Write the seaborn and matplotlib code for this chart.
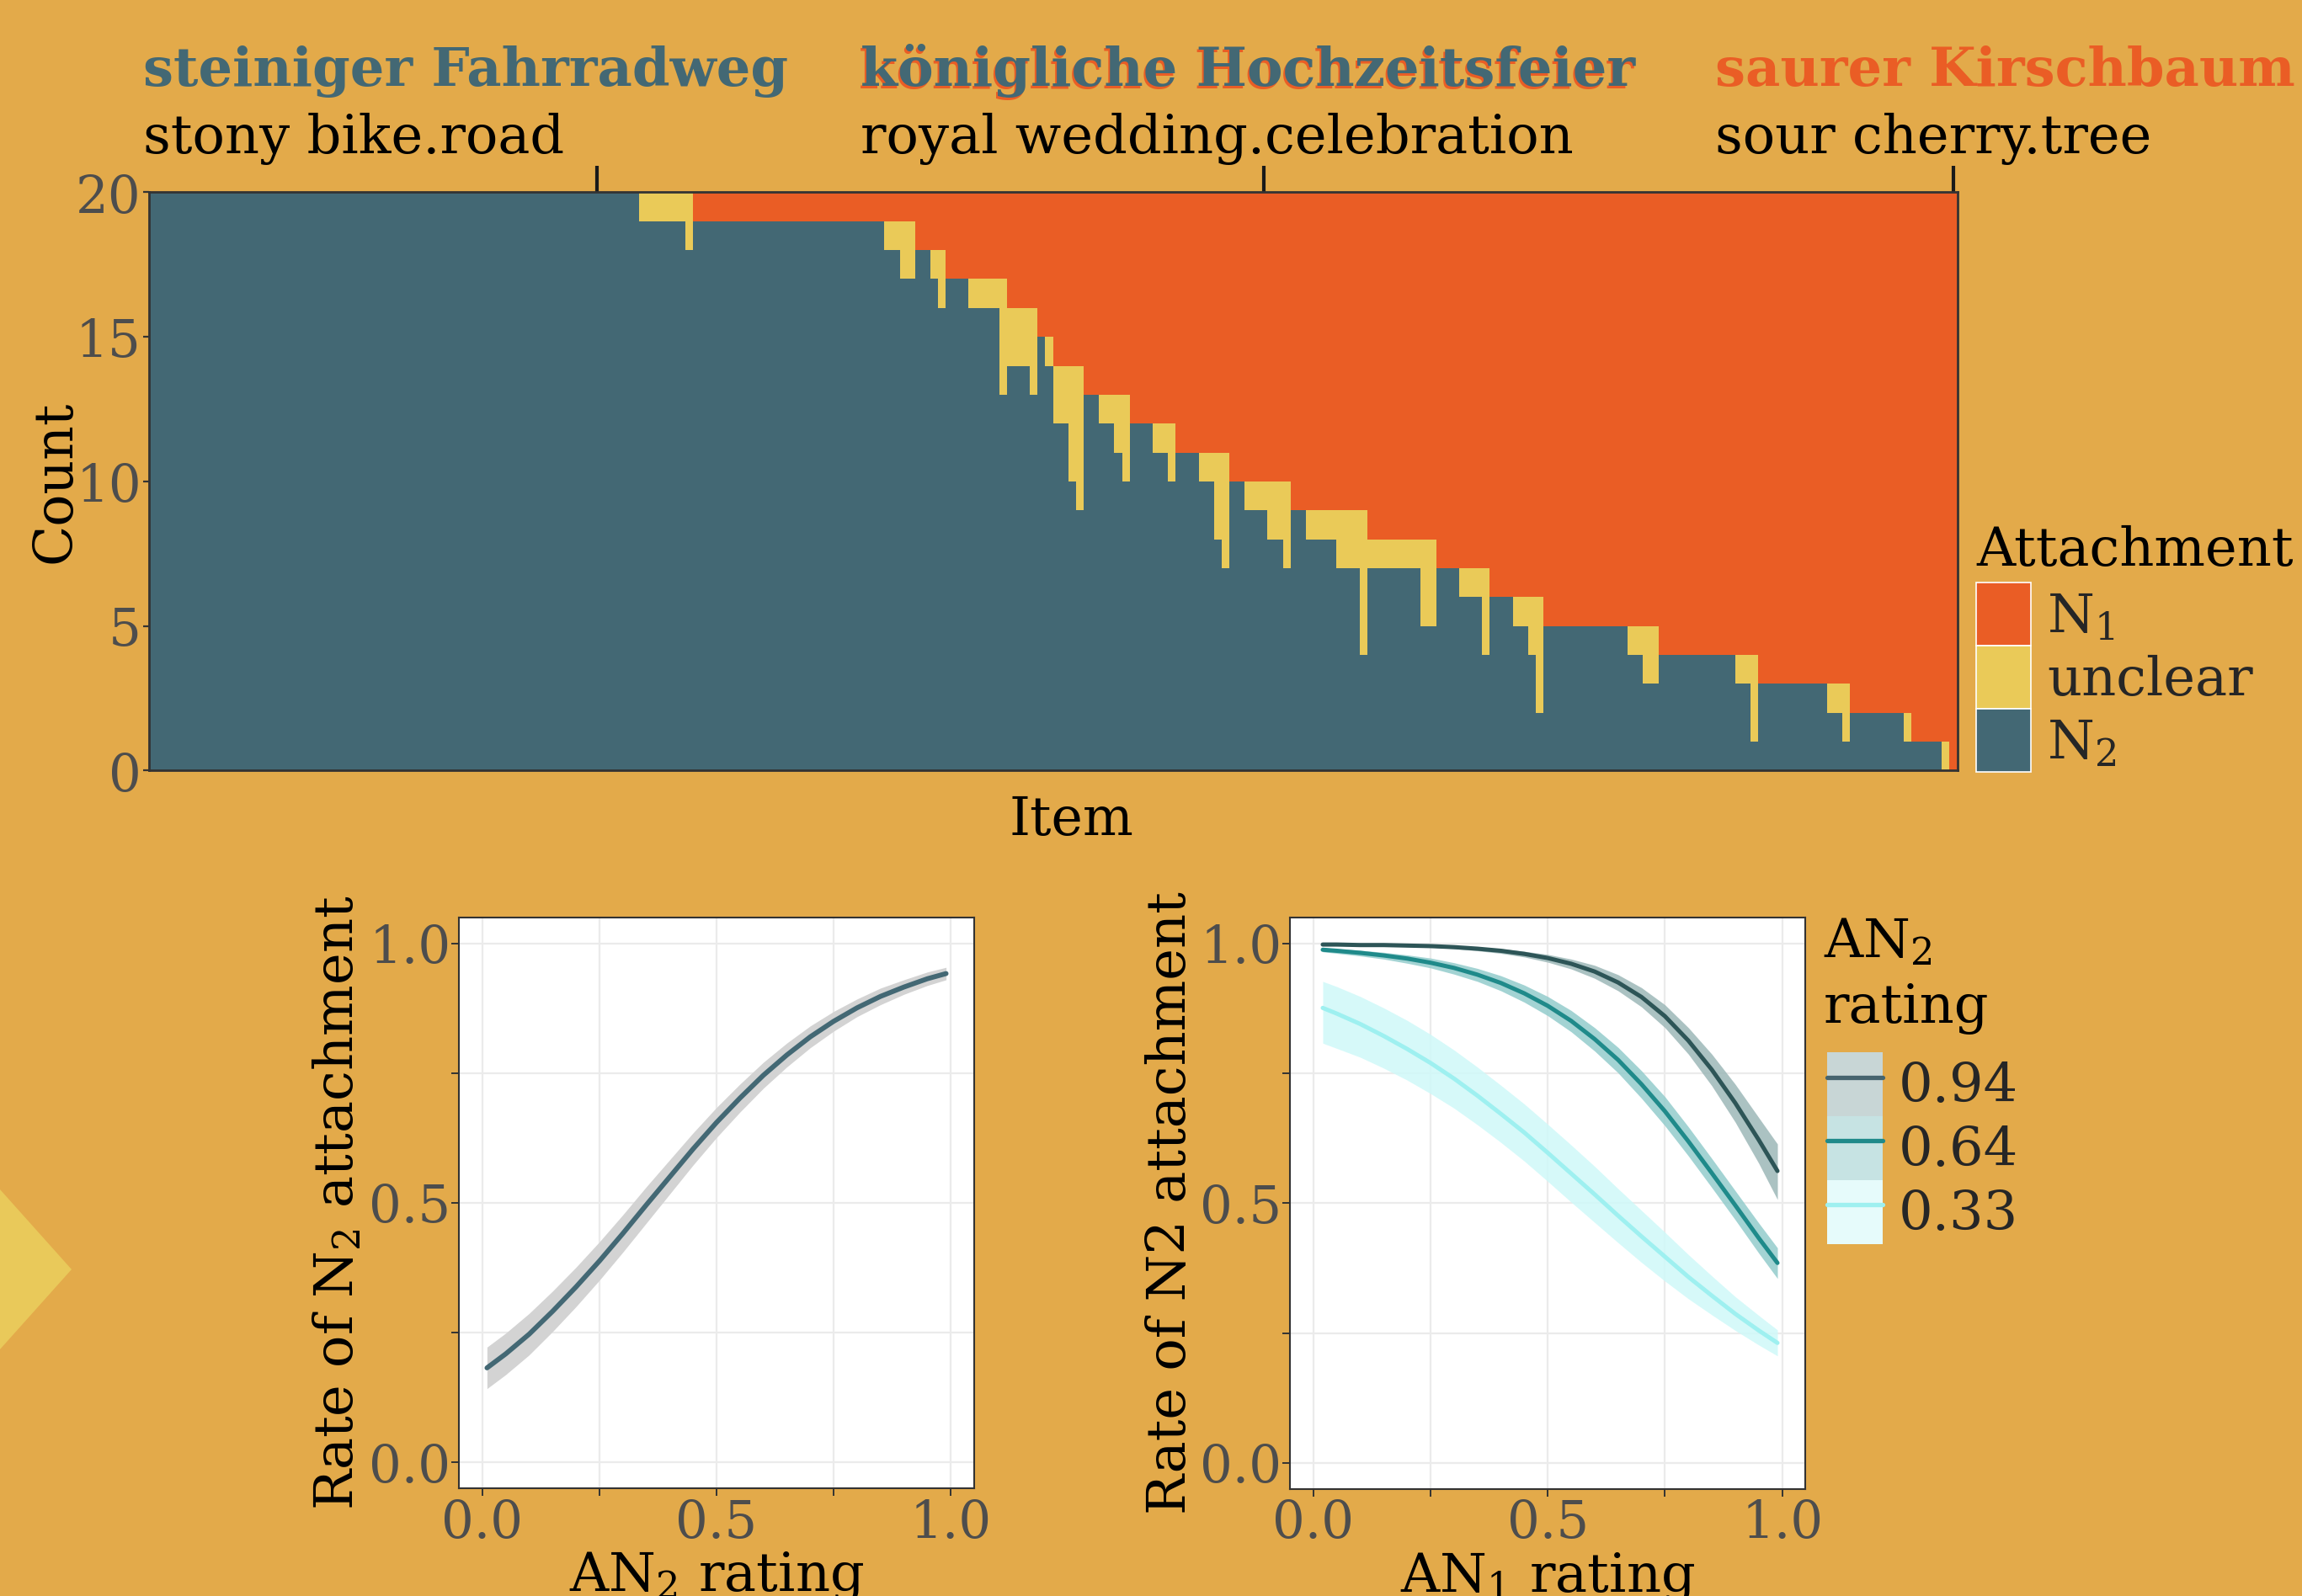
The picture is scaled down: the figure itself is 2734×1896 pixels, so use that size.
import numpy as np
import pandas as pd
import matplotlib
matplotlib.use("Agg")
import matplotlib.pyplot as plt
import matplotlib.transforms as mtransforms
from matplotlib.patches import Patch, Polygon
from matplotlib.lines import Line2D
from matplotlib.legend_handler import HandlerTuple
import seaborn as sns

# ---------------- data ----------------
TOTAL_RATERS = 20
categories = ["N1", "unclear", "N2"]
legend_labels_top = ["N$_1$", "unclear", "N$_2$"]

# item profiles (runs of items, sorted by N1 count then by unclear count)
profile_n1 = [0, 0, 0, 1, 1, 1, 2, 2, 2, 3, 3, 3, 4, 4, 5, 5, 6, 6, 6,
              7, 7, 7, 7, 8, 8, 8, 9, 9, 9, 9, 10, 10, 10, 10,
              11, 11, 11, 11, 12, 12, 13, 13, 13, 14, 14, 14, 14,
              15, 15, 15, 16, 16, 16, 17, 17, 17, 18, 18, 19, 19, 20]
profile_unclear = [0, 1, 2, 0, 1, 2, 0, 1, 2, 0, 1, 4, 2, 3, 0, 1, 2, 4, 5,
                   0, 1, 2, 3, 0, 1, 2, 0, 1, 3, 4, 0, 1, 2, 3,
                   0, 1, 2, 5, 1, 3, 0, 1, 3, 0, 1, 2, 4,
                   0, 1, 2, 0, 1, 3, 0, 1, 2, 0, 1, 0, 1, 0]
profile_items = [64, 6, 1, 25, 2, 2, 2, 1, 1, 3, 4, 1, 3, 1, 1, 1, 2, 1, 1,
                 2, 2, 1, 1, 3, 2, 1, 3, 2, 1, 1, 2, 3, 2, 1,
                 2, 4, 3, 1, 7, 2, 3, 3, 1, 3, 2, 1, 1,
                 11, 2, 2, 10, 2, 1, 9, 2, 1, 7, 1, 4, 1, 1]

label_items = [58, 145, 235]
label_german = ["steiniger Fahrradweg", "königliche Hochzeitsfeier", "saurer Kirschbaum"]
label_english = ["stony bike.road", "royal wedding.celebration", "sour cherry.tree"]

# bottom-left: rate of N2 attachment vs AN2 rating
an2_x = [0.01, 0.05, 0.10, 0.15, 0.20, 0.25, 0.30, 0.35, 0.40, 0.45, 0.50,
         0.55, 0.60, 0.65, 0.70, 0.75, 0.80, 0.85, 0.90, 0.95, 0.99]
an2_rate = [0.182, 0.209, 0.247, 0.291, 0.338, 0.388, 0.441, 0.496, 0.550, 0.604, 0.655,
            0.702, 0.746, 0.785, 0.820, 0.850, 0.876, 0.898, 0.916, 0.932, 0.942]
an2_lo = [0.142, 0.169, 0.207, 0.252, 0.300, 0.351, 0.405, 0.461, 0.517, 0.573, 0.626,
          0.675, 0.721, 0.762, 0.799, 0.831, 0.859, 0.882, 0.902, 0.919, 0.930]
an2_hi = [0.222, 0.249, 0.287, 0.330, 0.376, 0.425, 0.477, 0.531, 0.583, 0.635, 0.684,
          0.729, 0.771, 0.808, 0.841, 0.869, 0.893, 0.914, 0.930, 0.945, 0.954]

# bottom-right: rate of N2 attachment vs AN1 rating, by AN2 rating
an1_x = [0.02, 0.05, 0.10, 0.15, 0.20, 0.25, 0.30, 0.35, 0.40, 0.45, 0.50,
         0.55, 0.60, 0.65, 0.70, 0.75, 0.80, 0.85, 0.90, 0.95, 0.99]
an2_levels = ["0.94", "0.64", "0.33"]
rate_094 = [0.998, 0.998, 0.997, 0.997, 0.996, 0.995, 0.993, 0.990, 0.986, 0.980, 0.972,
            0.961, 0.946, 0.925, 0.897, 0.860, 0.813, 0.757, 0.693, 0.622, 0.562]
lo_094 = [0.996, 0.996, 0.995, 0.995, 0.994, 0.993, 0.990, 0.986, 0.981, 0.974, 0.964,
          0.951, 0.933, 0.909, 0.878, 0.838, 0.787, 0.726, 0.656, 0.577, 0.507]
hi_094 = [0.999, 0.999, 0.998, 0.998, 0.997, 0.997, 0.995, 0.993, 0.990, 0.985, 0.979,
          0.970, 0.958, 0.940, 0.915, 0.882, 0.838, 0.787, 0.729, 0.665, 0.614]
rate_064 = [0.988, 0.986, 0.982, 0.977, 0.971, 0.963, 0.953, 0.940, 0.924, 0.904, 0.880,
            0.851, 0.816, 0.776, 0.729, 0.677, 0.619, 0.558, 0.496, 0.433, 0.385]
lo_064 = [0.984, 0.981, 0.976, 0.970, 0.962, 0.953, 0.941, 0.927, 0.909, 0.887, 0.861,
          0.830, 0.793, 0.751, 0.702, 0.649, 0.591, 0.530, 0.468, 0.404, 0.355]
hi_064 = [0.992, 0.990, 0.987, 0.983, 0.978, 0.972, 0.963, 0.952, 0.938, 0.920, 0.898,
          0.871, 0.838, 0.800, 0.755, 0.705, 0.647, 0.586, 0.524, 0.462, 0.414]
rate_033 = [0.876, 0.865, 0.845, 0.822, 0.797, 0.770, 0.740, 0.707, 0.672, 0.636, 0.597,
            0.557, 0.517, 0.476, 0.436, 0.397, 0.358, 0.322, 0.287, 0.255, 0.231]
lo_033 = [0.808, 0.798, 0.781, 0.760, 0.737, 0.711, 0.683, 0.651, 0.617, 0.581, 0.542,
          0.502, 0.463, 0.424, 0.386, 0.350, 0.316, 0.285, 0.255, 0.227, 0.206]
hi_033 = [0.927, 0.917, 0.898, 0.876, 0.852, 0.825, 0.795, 0.762, 0.727, 0.691, 0.652,
          0.612, 0.571, 0.528, 0.486, 0.444, 0.401, 0.360, 0.320, 0.284, 0.256]

rate_ticks = [0.0, 0.25, 0.5, 0.75, 1.0]
rate_ticklabels = ["0.0", "", "0.5", "", "1.0"]

# ---------------- style ----------------
BG = "#E3AA4A"
pal = {"N1": "#EA5D25", "unclear": "#EACA58", "N2": "#436874"}
line_cols = {"0.94": "#2D5557", "0.64": "#1F8A8A", "0.33": "#9EF0F0"}
band_cols = {"0.94": "#9DB8B8", "0.64": "#93CCCC", "0.33": "#CFF9F9"}
key_bg = {"0.94": "#C8D6D6", "0.64": "#C6E3E3", "0.33": "#E6FBFB"}
key_line = {"0.94": "#46646E", "0.64": "#1F8A8A", "0.33": "#9EF0F0"}
TICK_GRAY = "#4D4D4D"

sns.set_theme(style="white")
plt.rcParams["font.family"] = ["DejaVu Serif", "DejaVu Sans"]
plt.rcParams["mathtext.fontset"] = "dejavuserif"

W, H = 2734, 1896
fig = plt.figure(figsize=(W / 100, H / 100), dpi=100, facecolor=BG)


def fx(px):
    return px / W


def fy(py):
    return 1 - py / H


# decorative chevron at the left edge
fig.patches.append(Polygon([(0, fy(1413)), (fx(85), fy(1508)), (0, fy(1603))],
                           closed=True, transform=fig.transFigure,
                           facecolor="#E9C95A", edgecolor="none", zorder=0))

# ---------------- top: stacked counts per item ----------------
n1 = np.repeat(profile_n1, profile_items)
unc = np.repeat(profile_unclear, profile_items)
n2 = TOTAL_RATERS - n1 - unc
items = np.arange(len(n1))
df = pd.DataFrame({
    "item": np.tile(items, 3),
    "Attachment": np.repeat(categories, len(items)),
    "count": np.concatenate([n1, unc, n2]),
})

ax = fig.add_axes([fx(176.7), fy(915.5), fx(2147.8), 687.1 / H])
sns.histplot(data=df, x="item", weights="count", hue="Attachment",
             hue_order=categories, multiple="stack", discrete=True, shrink=1,
             palette=pal, alpha=1, linewidth=0, antialiased=False,
             legend=False, ax=ax)
ax.set_xlim(-0.5, len(items) - 0.5)
ax.set_ylim(0, TOTAL_RATERS)
ax.set_facecolor(pal["N2"])
ax.set_yticks([0, 5, 10, 15, 20])
ax.set_yticklabels(["0", "5", "10", "15", "20"])
ax.xaxis.set_ticks_position("top")
ax.set_xticks(label_items)
ax.set_xticklabels([""] * len(label_items))
ax.tick_params(axis="x", which="both", top=True, bottom=False, length=22,
               width=3, color="#1A1A1A")
ax.tick_params(axis="y", left=True, length=5, width=1.6, color="#333333",
               labelsize=44, labelcolor=TICK_GRAY, pad=1.5)
for s in ax.spines.values():
    s.set_color("#333333")
    s.set_linewidth(2)
    s.set_zorder(5)
ax.set_xlabel("Item", fontsize=45.5, color="black")
ax.xaxis.set_label_position("bottom")
ax.xaxis.set_label_coords(0.5104, -0.042)
ax.set_ylabel("Count", fontsize=45.5, color="black")
ax.yaxis.set_label_coords(-0.0375, 0.5)

# item labels above the top panel
text_x = [170, 1022, 2037]
for i, (g, e, x) in enumerate(zip(label_german, label_english, text_x)):
    if i == 1:
        shadow = mtransforms.offset_copy(fig.transFigure, fig=fig, x=-2, y=-3, units="dots")
        fig.text(fx(x), fy(102), g, fontsize=46, fontweight="bold",
                 color=pal["N1"], va="baseline", ha="left", transform=shadow)
        col = pal["N2"]
    elif i == 0:
        col = pal["N2"]
    else:
        col = pal["N1"]
    fig.text(fx(x), fy(102), g, fontsize=46, fontweight="bold", color=col,
             va="baseline", ha="left")
    fig.text(fx(x), fy(182), e, fontsize=46, color="black", va="baseline", ha="left")

# legend for the top panel
fig.text(fx(2347), fy(672), "Attachment", fontsize=46, color="black",
         va="baseline", ha="left")
handles_top = [Patch(facecolor=pal[c], edgecolor="white", linewidth=1.2) for c in categories]
fig.legend(handles_top, legend_labels_top, loc="upper left",
           bbox_to_anchor=(fx(2347), fy(692)), bbox_transform=fig.transFigure,
           frameon=False, fontsize=46, handlelength=1.02, handleheight=1.43,
           labelspacing=0, handletextpad=0.3, borderpad=0, borderaxespad=0)


def style_rate_axes(a):
    a.set_facecolor("white")
    a.set_xlim(-0.05, 1.05)
    a.set_ylim(-0.05, 1.05)
    a.set_xticks(rate_ticks)
    a.set_xticklabels(rate_ticklabels)
    a.set_yticks(rate_ticks)
    a.set_yticklabels(rate_ticklabels)
    a.grid(True, color="#EBEBEB", linewidth=1.6)
    a.set_axisbelow(True)
    a.tick_params(axis="both", length=6.5, width=1.4, color="#333333",
                  labelsize=44, labelcolor=TICK_GRAY, left=True, bottom=True)
    a.tick_params(axis="x", pad=2)
    a.tick_params(axis="y", pad=0.5)
    for s in a.spines.values():
        s.set_color("#333333")
        s.set_linewidth(1.5)


# ---------------- bottom-left ----------------
ax2 = fig.add_axes([fx(545), fy(1768), 612 / W, 678 / H])
style_rate_axes(ax2)
ax2.fill_between(an2_x, an2_lo, an2_hi, color="#D3D3D3", linewidth=0, zorder=2)
sns.lineplot(x=an2_x, y=an2_rate, color="#436874", linewidth=4.2, errorbar=None,
             ax=ax2, zorder=3)
ax2.set_xlabel("AN$_2$ rating", fontsize=46, color="black")
ax2.xaxis.set_label_coords(0.5, -0.108)
ax2.set_ylabel("Rate of N$_2$ attachment", fontsize=46, color="black")
ax2.yaxis.set_label_coords(-0.185, 0.5)

# ---------------- bottom-right ----------------
ax3 = fig.add_axes([fx(1532), fy(1768.7), 612.4 / W, 678.7 / H])
style_rate_axes(ax3)
rates = {"0.94": rate_094, "0.64": rate_064, "0.33": rate_033}
los = {"0.94": lo_094, "0.64": lo_064, "0.33": lo_033}
his = {"0.94": hi_094, "0.64": hi_064, "0.33": hi_033}
for lev in an2_levels:
    ax3.fill_between(an1_x, los[lev], his[lev], color=band_cols[lev],
                     alpha=0.85, linewidth=0, zorder=2)
df_r = pd.DataFrame({
    "AN1": np.tile(an1_x, len(an2_levels)),
    "rate": np.concatenate([rates[l] for l in an2_levels]),
    "AN2 rating": np.repeat(an2_levels, len(an1_x)),
})
sns.lineplot(data=df_r, x="AN1", y="rate", hue="AN2 rating", hue_order=an2_levels,
             palette=line_cols, linewidth=3.6, errorbar=None, legend=False,
             ax=ax3, zorder=3)
ax3.set_xlabel("AN$_1$ rating", fontsize=46, color="black")
ax3.xaxis.set_label_coords(0.5, -0.108)
ax3.set_ylabel("Rate of N2 attachment", fontsize=46, color="black")
ax3.yaxis.set_label_coords(-0.182, 0.5)

fig.text(fx(2166), fy(1137), "AN$_2$", fontsize=46, color="black", va="baseline", ha="left")
fig.text(fx(2166), fy(1215), "rating", fontsize=46, color="black", va="baseline", ha="left")
handles_r = [(Patch(facecolor=key_bg[l], edgecolor="none"),
              Line2D([], [], color=key_line[l], linewidth=3.8)) for l in an2_levels]
fig.legend(handles_r, an2_levels, handler_map={tuple: HandlerTuple(ndivide=1, pad=0)},
           loc="upper left", bbox_to_anchor=(fx(2170), fy(1250)),
           bbox_transform=fig.transFigure, frameon=False, fontsize=46,
           handlelength=1.04, handleheight=1.45, labelspacing=0,
           handletextpad=0.28, borderpad=0, borderaxespad=0)

fig.savefig("out.png", dpi=100, facecolor=BG)
